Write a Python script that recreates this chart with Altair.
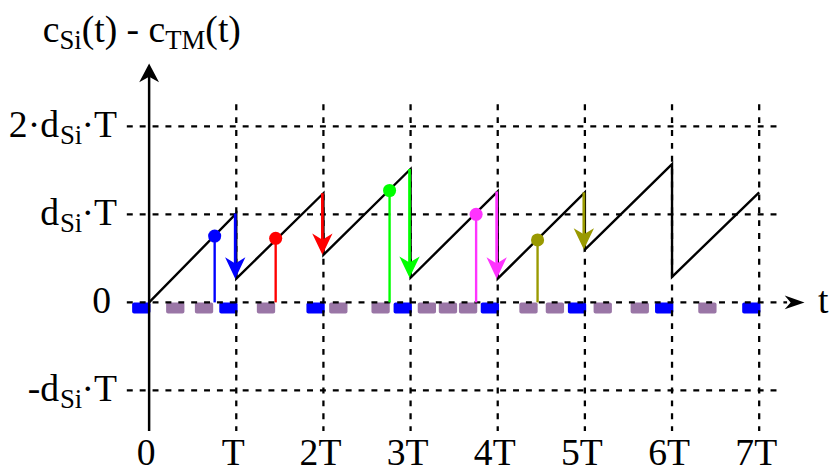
import altair as alt
import pandas as pd

# ---------------- data ----------------
# sawtooth c_Si(t) - c_TM(t), in units of d_Si*T, time in units of T
saw_t = [0, 1, 1, 2, 2, 3, 3, 4, 4, 5, 5, 6, 6, 7]
saw_v = [0, 1.01, 0.27, 1.24, 0.54, 1.515, 0.28, 1.26, 0.27, 1.25, 0.60, 1.57, 0.29, 1.25]

# downward correction arrows at the period boundaries
arrow_t = [1, 2, 3, 4, 5]
arrow_from = [1.01, 1.24, 1.515, 1.26, 1.25]
arrow_to = [0.27, 0.54, 0.28, 0.27, 0.60]
arrow_color = ["#0000ff", "#ff0000", "#00ff00", "#ff33ff", "#999900"]

# sampling stems (lollipops)
stem_t = [0.752, 1.452, 2.759, 3.752, 4.457]
stem_v = [0.754, 0.728, 1.271, 1.001, 0.709]
stem_color = ["#0000ff", "#ff0000", "#00ff00", "#ff33ff", "#999900"]

# time slots drawn as small bars just below the t axis
slot_len = 0.21
blue_start = [-0.195, 0.805, 1.805, 2.805, 3.805, 4.805, 5.805, 6.805]
purple_start = [0.195, 0.525, 1.236, 2.066, 2.551, 3.082, 3.324, 3.555,
                4.248, 4.551, 5.100, 5.525, 6.301]

# grid / ticks
h_grid = [2, 1, 0, -1]
h_grid_end = [7.2, 7.2, 7.32, 7.2]
v_grid = [1, 2, 3, 4, 5, 6, 7]
x_tick_t = [0, 1, 2, 3, 4, 5, 6, 7]
x_tick_lab = ["0", "T", "2T", "3T", "4T", "5T", "6T", "7T"]
y_tick_v = [2, 1, -1]
y_tick_pre = ["2\u00b7d", "d", "-d"]
y_tick_sub = ["Si", "Si", "Si"]
y_tick_post = ["\u00b7T", "\u00b7T", "\u00b7T"]
title_parts = ["c", "Si", "(t) - c", "TM", "(t)"]
axis_label_t = "t"

# ---------------- chart ----------------
FONT = "Liberation Serif"
W, H = 829, 466
xs = alt.Scale(domain=[-1.6193, 7.8011], nice=False, zero=False)
ys = alt.Scale(domain=[-1.9235, 3.3183], nice=False, zero=False)


def X(f):
    return alt.X(f, type="quantitative", scale=xs, axis=None)


def Y(f):
    return alt.Y(f, type="quantitative", scale=ys, axis=None)


DASH = [6, 7]
layers = []

# slot bars
slots = pd.DataFrame({
    "s": blue_start + purple_start,
    "c": ["#0000ff"] * len(blue_start) + ["#9a76a6"] * len(purple_start),
})
slots["e"] = slots["s"] + slot_len
slots["top"] = 0.0
slots["bot"] = -0.125
layers.append(
    alt.Chart(slots).mark_rect(cornerRadius=2).encode(
        x=X("s"), x2="e", y=Y("top"), y2="bot",
        color=alt.Color("c:N", scale=None))
)

# horizontal dashed grid (incl. dashed t axis)
hg = pd.DataFrame({"v": h_grid, "e": h_grid_end})
hg["b"] = -0.256
layers.append(
    alt.Chart(hg).mark_rule(color="black", strokeWidth=2.3, strokeDash=DASH).encode(
        x=X("b"), x2="e", y=Y("v"))
)
# vertical dashed grid
vg = pd.DataFrame({"t": v_grid})
vg["top"] = 2.25
vg["bot"] = -1.46
layers.append(
    alt.Chart(vg).mark_rule(color="black", strokeWidth=2.3, strokeDash=DASH).encode(
        x=X("t"), y=Y("top"), y2="bot")
)
# y axis (solid)
ya = pd.DataFrame({"t": [0], "bot": [-1.46], "top": [2.6]})
layers.append(
    alt.Chart(ya).mark_rule(color="black", strokeWidth=2.5).encode(
        x=X("t"), y=Y("bot"), y2="top")
)
# axis arrowheads
layers.append(
    alt.Chart(pd.DataFrame({"t": [0], "v": [2.714]})).mark_point(
        shape="M0,0 L-1,1.9 L0,1.35 L1,1.9 Z", filled=True, size=400,
        color="black", opacity=1, strokeWidth=0).encode(x=X("t"), y=Y("v"))
)
layers.append(
    alt.Chart(pd.DataFrame({"t": [7.52], "v": [0]})).mark_point(
        shape="M0,0 L-2,-0.7 L-1.4,0 L-2,0.7 Z", filled=True, size=400,
        color="black", opacity=1, strokeWidth=0).encode(x=X("t"), y=Y("v"))
)

# sawtooth
saw = pd.DataFrame({"t": saw_t, "v": saw_v, "o": list(range(len(saw_t)))})
layers.append(
    alt.Chart(saw).mark_line(color="black", strokeWidth=2.4).encode(
        x=X("t"), y=Y("v"), order="o:Q")
)

# arrows
arr = pd.DataFrame({"t": arrow_t, "a": arrow_from, "b": arrow_to, "c": arrow_color})
arr["t"] = arr["t"] - 0.012
arr["bb"] = arr["b"] + 0.12
layers.append(
    alt.Chart(arr).mark_rule(strokeWidth=2.8).encode(
        x=X("t"), y=Y("a"), y2="bb", color=alt.Color("c:N", scale=None))
)
layers.append(
    alt.Chart(arr).mark_point(
        shape="M0,0 L-1,-2.1 L0,-1.5 L1,-2.1 Z", filled=True, size=420,
        opacity=1, strokeWidth=0).encode(
        x=X("t"), y=Y("b"), color=alt.Color("c:N", scale=None))
)

# stems
st = pd.DataFrame({"t": stem_t, "v": stem_v, "c": stem_color})
st["z"] = 0.0
layers.append(
    alt.Chart(st).mark_rule(strokeWidth=2.4).encode(
        x=X("t"), y=Y("z"), y2="v", color=alt.Color("c:N", scale=None))
)
layers.append(
    alt.Chart(st).mark_circle(size=175, opacity=1).encode(
        x=X("t"), y=Y("v"), color=alt.Color("c:N", scale=None))
)


# ---------------- texts ----------------
def text_layer(df, size, dx=0, dy=0, align="left"):
    return alt.Chart(df).mark_text(
        font=FONT, fontSize=size, color="black", align=align,
        baseline="alphabetic", dx=dx, dy=dy).encode(x=X("t"), y=Y("v"), text="s:N")


# x tick labels
xt = pd.DataFrame({"t": x_tick_t, "s": x_tick_lab})
xt["v"] = -1.845
layers.append(text_layer(xt, 38, dx=-3, align="center"))

# y tick labels (right aligned next to the axis)
YLX = -0.369
yl = pd.DataFrame({"v": y_tick_v, "pre": y_tick_pre, "sub": y_tick_sub, "post": y_tick_post})
yl["t"] = YLX
layers.append(text_layer(yl.assign(s=yl["post"]), 38, dx=0, dy=11, align="right"))
layers.append(text_layer(yl.assign(s=yl["sub"]), 27, dx=-35, dy=18, align="right"))
layers.append(text_layer(yl.assign(s=yl["pre"]), 38, dx=-58.5, dy=11, align="right"))
layers.append(text_layer(pd.DataFrame({"t": [YLX], "v": [0], "s": ["0"]}), 38, dx=-6, dy=11, align="right"))

# axis name "t"
layers.append(text_layer(pd.DataFrame({"t": [7.676], "v": [0], "s": [axis_label_t]}), 38, dy=11))

# y title c_Si(t) - c_TM(t)
title_dx = [0, 16.9, 39.4, 123.8, 164.3]
title_size = [38, 27, 38, 27, 38]
title_dy = [0, 7, 0, 7, 0]
for part, ddx, sz, ddy in zip(title_parts, title_dx, title_size, title_dy):
    layers.append(text_layer(pd.DataFrame({"t": [-1.2216], "v": [2.958], "s": [part]}),
                             sz, dx=ddx, dy=ddy))

chart = alt.layer(*layers).properties(
    width=W, height=H, padding=0,
    autosize=alt.AutoSizeParams(type="none"),
).configure_view(stroke=None)

chart.save("out.html", embed_options={"renderer": "svg", "actions": False})
